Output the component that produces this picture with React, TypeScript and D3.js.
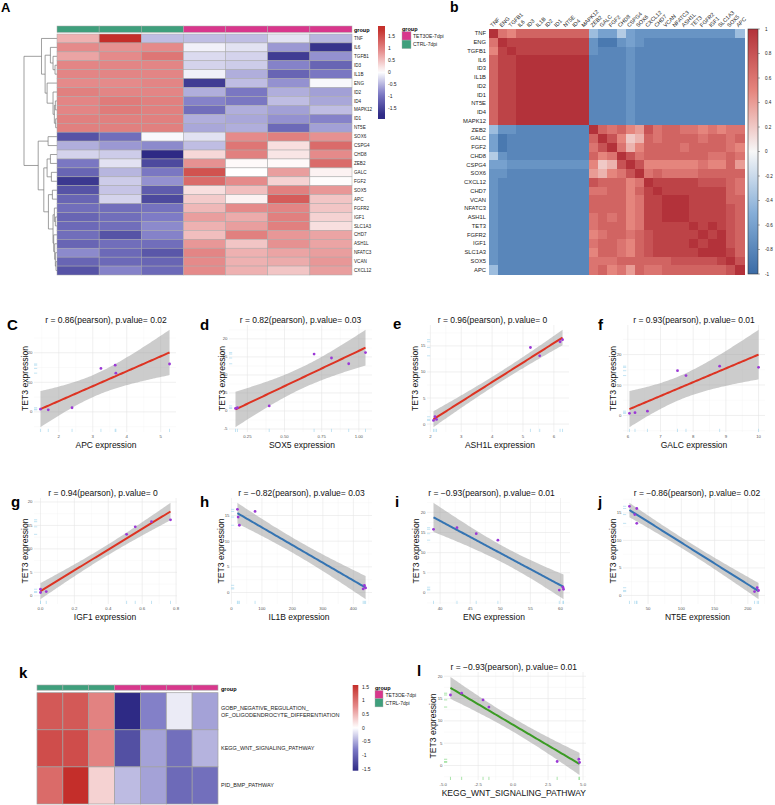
import React from "react";
import * as d3 from "d3";

const FONT = "'Liberation Sans', Arial, Helvetica, sans-serif";

// ---------------- Panel A data ----------------
const genesA = ["TNF","IL6","TGFB1","ID3","IL1B","ENG","ID2","ID4","MAPK12","ID1","NT5E","SOX6","CSPG4","CHD8","ZEB2","GALC","FGF2","SOX5","APC","FGFR2","IGF1","SLC1A3","CHD7","ASH1L","NFATC3","VCAN","CXCL12"];
const sampleGroups = ["CTRL-7dpi","CTRL-7dpi","CTRL-7dpi","TET3OE-7dpi","TET3OE-7dpi","TET3OE-7dpi","TET3OE-7dpi"];
const legendGroups = ["TET3OE-7dpi","CTRL-7dpi"];
const zA: number[][] = [
  [0.6, 1.9, -0.45, -0.45, -0.45, -0.2, -0.5],
  [0.9, 0.85, 0.9, -0.1, -0.2, -0.7, -1.7],
  [0.7, 0.9, 1.1, -0.25, -0.3, -1.6, -0.75],
  [0.95, 0.95, 0.95, -0.3, -0.35, -0.85, -1.15],
  [0.95, 0.95, 0.95, -0.1, -0.55, -1.15, -0.95],
  [0.9, 0.9, 0.95, -1.6, -0.45, -0.75, -0.05],
  [1.0, 0.95, 0.95, -0.55, -0.95, -0.55, -0.65],
  [0.95, 1.05, 1.0, -0.85, -0.95, -0.45, -0.6],
  [0.95, 1.05, 1.0, -1.05, -0.55, -0.65, -0.45],
  [1.0, 1.0, 1.0, -0.55, -0.6, -0.75, -0.85],
  [1.0, 1.0, 1.0, -0.6, -0.55, -1.1, -0.65],
  [-1.35, -1.05, -0.05, -0.2, 0.9, 1.0, 0.85],
  [-0.55, -0.7, -0.8, -0.45, 1.1, 0.25, 1.2],
  [-0.3, -0.35, -1.8, 0.3, 1.0, 0.2, 0.9],
  [-0.95, -0.2, -1.45, 0.85, 0.05, 0.05, 1.2],
  [-1.15, -0.5, -0.95, 1.45, 0.0, 0.75, 0.1],
  [-1.65, -0.35, -0.75, 1.2, 0.9, 0.35, 0.02],
  [-1.35, -0.4, -1.25, 0.25, 0.5, 1.0, 0.8],
  [-1.15, -0.3, -1.45, 0.4, 0.1, 1.35, 0.45],
  [-1.05, -1.05, -1.0, 0.55, 0.9, 0.95, 0.45],
  [-1.15, -1.05, -0.9, 0.75, 0.65, 1.0, 0.35],
  [-1.1, -1.05, -0.8, 0.6, 0.75, 1.0, 0.25],
  [-1.05, -1.35, -0.85, 0.5, 1.0, 0.8, 0.7],
  [-1.15, -1.05, -1.05, 0.8, 0.45, 0.85, 0.7],
  [-0.8, -1.1, -1.3, 0.95, 0.6, 0.7, 0.75],
  [-1.15, -1.1, -1.15, 0.9, 0.6, 0.65, 0.8],
  [-1.35, -0.85, -1.1, 0.9, 0.6, 0.45, 0.75],
];
type Tree = string | [Tree, Tree, number];
const dendroA: Tree = [
  ["TNF", [["IL6", ["TGFB1", ["ID3", "IL1B", 0.06], 0.12], 0.2], ["ENG", ["ID2", [["ID4", "MAPK12", 0.05], ["ID1", "NT5E", 0.04], 0.08], 0.12], 0.3], 0.36], 0.47],
  [["SOX6", "CSPG4", 0.27],
    [[["CHD8", "ZEB2", 0.2], ["GALC", "FGF2", 0.17], 0.3],
     [["SOX5", "APC", 0.14],
      [["FGFR2", ["IGF1", "SLC1A3", 0.05], 0.08], ["CHD7", ["ASH1L", ["NFATC3", ["VCAN", "CXCL12", 0.03], 0.05], 0.07], 0.1], 0.12], 0.26], 0.4], 0.57],
  1];
const cbTicksA = [1.5, 1, 0.5, 0, -0.5, -1, -1.5];

// ---------------- Panel b data ----------------
const genesB = ["TNF","ENG","TGFB1","IL6","ID3","IL1B","ID2","ID1","NT5E","ID4","MAPK12","ZEB2","GALC","FGF2","CHD8","CSPG4","SOX6","CXCL12","CHD7","VCAN","NFATC3","ASH1L","TET3","FGFR2","IGF1","SLC1A3","SOX5","APC"];
// lower triangle, letter code: A=-1.0 ... K=0 ... U=1.0 (step 0.1)
const corrCodes = [
  "U",
  "QU",
  "PTU",
  "RTTU",
  "RTTUU",
  "RTTUUU",
  "RTTUUUU",
  "RTTUUUUU",
  "RTTUUUUUU",
  "RTTUUUUUUU",
  "RTTUUUUUUUU",
  "GDDCCCCCCCCU",
  "EBCCCCCCCCCRU",
  "EBCCCCCCCCCQSU",
  "HDCCCCCCCCCRPQU",
  "EEDDDDDDDDDPMNSU",
  "DDCCCCCCCCCONPQSU",
  "DCCCCCCCCCCSRRRPQU",
  "DCCCCCCCCCCQQRRPRTU",
  "DCCCCCCCCCCRRRRPQTTU",
  "DCCCCCCCCCCRRRRPQTTUU",
  "DCCCCCCCCCCQRQRPQTTUUU",
  "DCCCCCCCCCCQRRRPQTTTTTU",
  "DCCCCCCCCCCPQRRQRSTTTTTU",
  "DCCCCCCCCCCQRRQPRSTTTTUTU",
  "DCCCCCCCCCCPRRQPRSTTTTTUUU",
  "DCCCCCCCCCCQQQRRRRRRSSSSSTU",
  "GCCCCCCCCCCQRPQORQQRRRRRRRSU",
];
const cbTicksB = [1, 0.8, 0.6, 0.4, 0.2, 0, -0.2, -0.4, -0.6, -0.8, -1];

// ---------------- Scatter data (7 samples, same order) ----------------
const tet3 = [0.7, 0.9, 1.4, 13.1, 14.7, 15.8, 16.2];
const apc = [1.69, 1.46, 2.39, 3.68, 3.24, 3.66, 5.26];
const sox5 = [0.17, 0.183, 0.397, 0.932, 0.816, 0.699, 1.045];
const ash1l = [2.1, 2.2, 2.15, 5.54, 5.24, 6.2, 6.28];
const galc = [6.05, 6.22, 6.6, 7.78, 7.52, 10.0, 8.81];
const igf1 = [0.0, 0.034, 0.0, 0.508, 0.559, 0.655, 0.767];
const il1b = [432, 440, 436, 26, 22, 77.5, 19.6];
const eng = [59.8, 60.5, 60.4, 49.6, 46.0, 38.9, 42.8];
const nt5e = [210, 216, 214, 33, 30, 33, 22];
const kegg = [4.75, 3.15, 4.7, -1.73, -2.15, -4.48, -3.68];

// ---------------- Panel k data ----------------
const pathwaysK = [["GOBP_NEGATIVE_REGULATION_", "OF_OLIGODENDROCYTE_DIFFERENTIATION"], ["KEGG_WNT_SIGNALING_PATHWAY"], ["PID_BMP_PATHWAY"]];
const zK: number[][] = [
  [1.2, 1.2, 0.85, -1.57, -0.75, -0.12, -0.55],
  [1.3, 1.3, 0.85, -1.2, -0.55, -0.9, -0.45],
  [1.05, 1.57, 0.3, -0.4, -0.55, -0.95, -0.9],
];

// ---------------- styles ----------------
const groupColor: Record<string, string> = { "TET3OE-7dpi": "#D8378C", "CTRL-7dpi": "#3F9F7C" };
const heatRange = ["#2E2A85", "#7E7BC6", "#FFFFFF", "#E58A8A", "#C42E2A"];
const colA = d3.scaleLinear<string>().domain([-1.8, -0.9, 0, 0.9, 1.8]).range(heatRange).clamp(true);
const colK = d3.scaleLinear<string>().domain([-1.57, -0.78, 0, 0.78, 1.57]).range(heatRange).clamp(true);
const colB = d3.scaleLinear<string>().domain([-1, -0.5, 0, 0.5, 1]).range(["#3B6CA6", "#86AED8", "#F7F7F7", "#E5857D", "#B3323A"]).clamp(true);

const tQ: Record<number, number> = { 1: 12.706, 2: 4.303, 3: 3.182, 4: 2.776, 5: 2.5706, 6: 2.447, 7: 2.365, 8: 2.306 };

function lmBand(xs: number[], ys: number[]) {
  const n = xs.length;
  const mx = d3.mean(xs)!, my = d3.mean(ys)!;
  let sxx = 0, sxy = 0;
  xs.forEach((x, i) => { sxx += (x - mx) ** 2; sxy += (x - mx) * (ys[i] - my); });
  const b = sxy / sxx, a = my - b * mx;
  let sse = 0;
  xs.forEach((x, i) => { sse += (ys[i] - (a + b * x)) ** 2; });
  const s = Math.sqrt(sse / (n - 2));
  const t = tQ[n - 2] ?? 2;
  const [lo, hi] = d3.extent(xs) as [number, number];
  return d3.range(81).map((i) => {
    const x = lo + ((hi - lo) * i) / 80;
    const yh = a + b * x;
    const se = s * Math.sqrt(1 / n + (x - mx) ** 2 / sxx);
    return { x, y: yh, lo: yh - t * se, hi: yh + t * se };
  });
}
const expand = (e: [number, number]): [number, number] => {
  const d = (e[1] - e[0]) * 0.05;
  return [e[0] - d, e[1] + d];
};

type PanelCfg = {
  label: string; lx: number; ly: number; title: string; tx: number;
  xlab: string; xtx: number; xs: number[]; xticks: string[]; yticks: number[];
  x0: number; x1: number; y0: number; y1: number; ytx: number; line: string; rug: string;
};

const R1 = { y0: 325, y1: 432 };
const R2 = { y0: 498, y1: 604 };
const panels: PanelCfg[] = [
  { label: "C", lx: 7, ly: 330, title: "r = 0.86(pearson), p.value= 0.02", tx: 106, xlab: "APC expression", xtx: 106, xs: apc, xticks: ["2", "3", "4", "5"], yticks: [0, 10, 20], x0: 34, x1: 176, ...R1, ytx: 24.5, line: "#DD3322", rug: "#A9D8EE" },
  { label: "d", lx: 200, ly: 330, title: "r = 0.82(pearson), p.value= 0.03", tx: 300.5, xlab: "SOX5 expression", xtx: 302, xs: sox5, xticks: ["0.25", "0.50", "0.75", "1.00"], yticks: [-5, 0, 5, 10, 15, 20], x0: 229, x1: 372, ...R1, ytx: 221.5, line: "#DD3322", rug: "#A9D8EE" },
  { label: "e", lx: 393, ly: 329, title: "r = 0.96(pearson), p.value= 0", tx: 492.5, xlab: "ASH1L expression", xtx: 500, xs: ash1l, xticks: ["2", "3", "4", "5", "6"], yticks: [0, 5, 10, 15], x0: 427, x1: 569, ...R1, ytx: 415, line: "#DD3322", rug: "#A9D8EE" },
  { label: "f", lx: 598, ly: 330, title: "r = 0.93(pearson), p.value= 0.01", tx: 694, xlab: "GALC expression", xtx: 694, xs: galc, xticks: ["6", "7", "8", "9", "10"], yticks: [0, 10, 20], x0: 623, x1: 765, ...R1, ytx: 612.5, line: "#DD3322", rug: "#A9D8EE" },
  { label: "g", lx: 11, ly: 507, title: "r = 0.94(pearson), p.value= 0", tx: 103, xlab: "IGF1 expression", xtx: 105, xs: igf1, xticks: ["0.0", "0.2", "0.4", "0.6", "0.8"], yticks: [0, 5, 10, 15, 20], x0: 34, x1: 177, ...R2, ytx: 24.5, line: "#DD3322", rug: "#A9D8EE" },
  { label: "h", lx: 200, ly: 507, title: "r = \u22120.82(pearson), p.value= 0.03", tx: 301.5, xlab: "IL1B expression", xtx: 299, xs: il1b, xticks: ["0", "100", "200", "300", "400"], yticks: [0, 5, 10, 15], x0: 231, x1: 372, ...R2, ytx: 220.8, line: "#3574B2", rug: "#A9D8EE" },
  { label: "i", lx: 395, ly: 507, title: "r = \u22120.93(pearson), p.value= 0.01", tx: 491.5, xlab: "ENG expression", xtx: 494, xs: eng, xticks: ["40", "45", "50", "55", "60"], yticks: [0, 5, 10, 15, 20], x0: 427, x1: 570, ...R2, ytx: 415.5, line: "#3574B2", rug: "#A9D8EE" },
  { label: "j", lx: 598, ly: 507, title: "r = \u22120.86(pearson), p.value= 0.02", tx: 697, xlab: "NT5E expression", xtx: 697.5, xs: nt5e, xticks: ["50", "100", "150", "200"], yticks: [0, 5, 10, 15], x0: 623, x1: 765, ...R2, ytx: 612.5, line: "#3574B2", rug: "#A9D8EE" },
  { label: "l", lx: 417, ly: 676, title: "r = \u22120.93(pearson), p.value= 0.01", tx: 513.8, xlab: "KEGG_WNT_SIGNALING_PATHWAY", xtx: 513.8, xs: kegg, xticks: ["-5.0", "-2.5", "0.0", "2.5", "5.0"], yticks: [0, 5, 10, 15, 20], x0: 444, x1: 586, y0: 672, y1: 780, ytx: 433.3, line: "#3B9B24", rug: "#86D886" },
];

function Scatter({ c }: { c: PanelCfg }) {
  const band = lmBand(c.xs, tet3);
  const xd = expand(d3.extent(c.xs) as [number, number]);
  const yd = expand(d3.extent([...tet3, ...band.map((b) => b.lo), ...band.map((b) => b.hi)]) as [number, number]);
  const x = d3.scaleLinear().domain(xd).range([c.x0, c.x1]);
  const y = d3.scaleLinear().domain(yd).range([c.y1, c.y0]);
  const xt = c.xticks.map((s) => +s);
  const xstep = xt[1] - xt[0];
  const ystep = c.yticks[1] - c.yticks[0];
  const minors = (ticks: number[], step: number, dom: [number, number]) => {
    const out: number[] = [];
    for (let v = ticks[0] - step / 2; v <= dom[1]; v += step) if (v >= dom[0]) out.push(v);
    for (let v = ticks[0] - step * 1.5; v >= dom[0]; v -= step) out.push(v);
    return out;
  };
  const area = d3.area<any>().x((d) => x(d.x)).y0((d) => y(d.lo)).y1((d) => y(d.hi));
  const line = d3.line<any>().x((d) => x(d.x)).y((d) => y(d.y));
  const ymid = (c.y0 + c.y1) / 2;
  return (
    <g>
      {minors(xt, xstep, xd).map((v, i) => (
        <line key={"mx" + i} x1={x(v)} x2={x(v)} y1={c.y0} y2={c.y1} stroke="#F2F2F2" strokeWidth={0.4} />
      ))}
      {minors(c.yticks, ystep, yd).map((v, i) => (
        <line key={"my" + i} x1={c.x0} x2={c.x1} y1={y(v)} y2={y(v)} stroke="#F2F2F2" strokeWidth={0.4} />
      ))}
      {xt.filter((v) => v >= xd[0] && v <= xd[1]).map((v, i) => (
        <line key={"gx" + i} x1={x(v)} x2={x(v)} y1={c.y0} y2={c.y1} stroke="#E6E6E6" strokeWidth={0.6} />
      ))}
      {c.yticks.filter((v) => v >= yd[0] && v <= yd[1]).map((v, i) => (
        <line key={"gy" + i} x1={c.x0} x2={c.x1} y1={y(v)} y2={y(v)} stroke="#E6E6E6" strokeWidth={0.6} />
      ))}
      <path d={area(band)!} fill="#999999" fillOpacity={0.5} />
      <path d={line(band)!} fill="none" stroke={c.line} strokeWidth={2} />
      {c.xs.map((v, i) => (
        <line key={"rx" + i} x1={x(v)} x2={x(v)} y1={c.y1} y2={c.y1 - 3.2} stroke={c.rug} strokeWidth={0.7} />
      ))}
      {tet3.map((v, i) => (
        <line key={"ry" + i} x1={c.x0} x2={c.x0 + 3.2} y1={y(v)} y2={y(v)} stroke={c.rug} strokeWidth={0.7} />
      ))}
      {c.xs.map((v, i) => (
        <circle key={"p" + i} cx={x(v)} cy={y(tet3[i])} r={1.4} fill="#9B38D6" />
      ))}
      {c.xticks.map((s, i) => (
        <text key={"xl" + i} x={x(+s)} y={c.y1 + 5.6} fontSize={4.3} fill="#555" textAnchor="middle">{s}</text>
      ))}
      {c.yticks.filter((v) => v >= yd[0] && v <= yd[1]).map((v, i) => (
        <text key={"yl" + i} x={c.x0 - 1.5} y={y(v) + 1.5} fontSize={4.3} fill="#555" textAnchor="end">{String(v)}</text>
      ))}
      <text x={c.tx} y={c.y0 - 2.5} fontSize={8.5} textAnchor="middle" fill="#111">{c.title}</text>
      <text x={c.xtx} y={c.y1 + 16} fontSize={8.5} textAnchor="middle" fill="#111">{c.xlab}</text>
      <text transform={`translate(${c.ytx + 3},${ymid}) rotate(-90)`} fontSize={8.6} textAnchor="middle" fill="#111">TET3 expression</text>
      <text x={c.lx} y={c.ly} fontSize={15} fontWeight="bold" fill="#000">{c.label}</text>
    </g>
  );
}

function HeatA() {
  const x = d3.scaleBand<number>().domain(d3.range(7)).range([57, 352]);
  const y = d3.scaleBand<string>().domain(genesA).range([34, 275]);
  const dx = d3.scaleLinear().domain([0, 1]).range([57, 24]);
  const segs: [number, number, number, number][] = [];
  const walk = (t: Tree): { y: number; h: number } => {
    if (typeof t === "string") return { y: y(t)! + y.bandwidth() / 2, h: 0 };
    const a = walk(t[0]), b = walk(t[1]);
    segs.push([dx(t[2]), a.y, dx(t[2]), b.y]);
    segs.push([dx(a.h), a.y, dx(t[2]), a.y]);
    segs.push([dx(b.h), b.y, dx(t[2]), b.y]);
    return { y: (a.y + b.y) / 2, h: t[2] };
  };
  walk(dendroA);
  const cb = d3.scaleLinear().domain([1.5, -1.5]).range([36, 108]);
  const cbTop = 26, cbBot = 119;
  const stops = d3.range(21).map((i) => {
    const py = cbTop + ((cbBot - cbTop) * i) / 20;
    return { off: i / 20, col: colA(cb.invert(py)) };
  });
  return (
    <g>
      <text x={1} y={12} fontSize={13} fontWeight="bold">A</text>
      {segs.map((s, i) => (
        <line key={i} x1={s[0]} y1={s[1]} x2={s[2]} y2={s[3]} stroke="#777" strokeWidth={0.7} />
      ))}
      {sampleGroups.map((g, j) => (
        <rect key={"g" + j} x={x(j)} y={26} width={x.bandwidth()} height={6.4} fill={groupColor[g]} stroke="#AAAAAA" strokeWidth={0.5} />
      ))}
      <text x={354} y={31.8} fontSize={5.5} fontWeight="bold">group</text>
      {zA.map((row, i) =>
        row.map((v, j) => (
          <rect key={i + "-" + j} x={x(j)} y={y(genesA[i])} width={x.bandwidth()} height={y.bandwidth()} fill={colA(v)} stroke="#A8A8A8" strokeWidth={0.5} />
        ))
      )}
      {genesA.map((g) => (
        <text key={g} x={354} y={y(g)! + y.bandwidth() / 2 + 1.6} fontSize={4.6} fill="#222">{g}</text>
      ))}
      <defs>
        <linearGradient id="cbA" x1="0" y1="0" x2="0" y2="1">
          {stops.map((s, i) => <stop key={i} offset={s.off} stopColor={s.col} />)}
        </linearGradient>
        <linearGradient id="cbK" x1="0" y1="0" x2="0" y2="1">
          {d3.range(21).map((i) => <stop key={i} offset={i / 20} stopColor={colK(1.57 - (3.14 * i) / 20)} />)}
        </linearGradient>
        <linearGradient id="cbB" x1="0" y1="0" x2="0" y2="1">
          {d3.range(21).map((i) => <stop key={i} offset={i / 20} stopColor={colB(1 - (2 * i) / 20)} />)}
        </linearGradient>
      </defs>
      <rect x={378} y={cbTop} width={7} height={cbBot - cbTop} fill="url(#cbA)" />
      {cbTicksA.map((t) => (
        <text key={t} x={388} y={cb(t) + 1.7} fontSize={5} fill="#222">{String(t)}</text>
      ))}
      <text x={402} y={30.5} fontSize={5.5} fontWeight="bold">group</text>
      {legendGroups.map((g, i) => (
        <g key={g}>
          <rect x={402} y={31.6 + i * 8.5} width={9} height={8.5} fill={groupColor[g]} stroke="#AAAAAA" strokeWidth={0.4} />
          <text x={413} y={37.6 + i * 8.5} fontSize={5} fill="#222">{g}</text>
        </g>
      ))}
    </g>
  );
}

function CorrB() {
  const x = d3.scaleBand<string>().domain(genesB).range([489, 744]);
  const y = d3.scaleBand<string>().domain(genesB).range([29, 274]);
  const code = (ch: string) => (ch.charCodeAt(0) - 75) / 10;
  const val = (i: number, j: number) => (i >= j ? code(corrCodes[i][j]) : code(corrCodes[j][i]));
  const cb = d3.scaleLinear().domain([1, -1]).range([29, 274]);
  return (
    <g>
      <text x={450} y={12} fontSize={14} fontWeight="bold">b</text>
      <g shapeRendering="crispEdges">
        {genesB.map((r, i) =>
          genesB.map((cName, j) => (
            <rect key={i + "-" + j} x={x(cName)} y={y(r)} width={x.bandwidth() + 0.6} height={y.bandwidth() + 0.6} fill={colB(val(i, j))} />
          ))
        )}
      </g>
      {genesB.map((g) => (
        <text key={"r" + g} x={486} y={y(g)! + y.bandwidth() / 2 + 2} fontSize={5.8} textAnchor="end" fill="#222">{g}</text>
      ))}
      {genesB.map((g) => (
        <text key={"c" + g} transform={`translate(${x(g)! + x.bandwidth() / 2 - 1},27.5) rotate(-45)`} fontSize={5.5} fill="#222">{g}</text>
      ))}
      <rect x={748} y={29} width={10} height={245} fill="url(#cbB)" stroke="#333" strokeWidth={0.6} />
      {cbTicksB.map((t) => (
        <g key={t}>
          <line x1={758} x2={760} y1={cb(t)} y2={cb(t)} stroke="#333" strokeWidth={0.4} />
          <text x={765} y={cb(t) + 1.6} fontSize={4.6} fill="#222">{String(t)}</text>
        </g>
      ))}
    </g>
  );
}

function HeatK() {
  const x = d3.scaleBand<number>().domain(d3.range(7)).range([37, 218]);
  const y = d3.scaleBand<number>().domain(d3.range(3)).range([692.7, 804]);
  const cb = d3.scaleLinear().domain([1.5, -1.5]).range([687, 769]);
  return (
    <g>
      <text x={19} y={678} fontSize={15} fontWeight="bold">k</text>
      {sampleGroups.map((g, j) => (
        <rect key={"g" + j} x={x(j)} y={685} width={x.bandwidth()} height={5.2} fill={groupColor[g]} stroke="#AAAAAA" strokeWidth={0.6} />
      ))}
      <text x={221} y={690.6} fontSize={5.5} fontWeight="bold">group</text>
      {zK.map((row, i) =>
        row.map((v, j) => (
          <rect key={i + "-" + j} x={x(j)} y={y(i)} width={x.bandwidth()} height={y.bandwidth()} fill={colK(v)} stroke="#A0A0A0" strokeWidth={0.7} />
        ))
      )}
      {pathwaysK.map((lines, i) => (
        <text key={i} x={221} y={y(i)! + y.bandwidth() / 2 + 2 - (lines.length - 1) * 3.4} fontSize={5.5} fill="#222">
          {lines.map((l, k) => (
            <tspan key={k} x={221} dy={k === 0 ? 0 : 6.8}>{l}</tspan>
          ))}
        </text>
      ))}
      <rect x={352.7} y={685} width={5.6} height={85.7} fill="url(#cbK)" />
      {cbTicksA.map((t) => (
        <text key={t} x={362} y={cb(t) + 1.7} fontSize={5} fill="#222">{String(t)}</text>
      ))}
      <text x={375} y={690} fontSize={5.5} fontWeight="bold">group</text>
      {legendGroups.map((g, i) => (
        <g key={g}>
          <rect x={375} y={690.5 + i * 8.2} width={8} height={8.2} fill={groupColor[g]} stroke="#AAAAAA" strokeWidth={0.4} />
          <text x={385.5} y={696.5 + i * 8.2} fontSize={5} fill="#222">{g}</text>
        </g>
      ))}
    </g>
  );
}

export default function App() {
  return (
    <svg width={775} height={805} viewBox="0 0 775 805" style={{ position: "absolute", left: 0, top: 0, background: "#fff", fontFamily: FONT }}>
      <rect x={0} y={0} width={775} height={805} fill="#fff" />
      <HeatA />
      <CorrB />
      {panels.map((p) => <Scatter key={p.label} c={p} />)}
      <HeatK />
    </svg>
  );
}
